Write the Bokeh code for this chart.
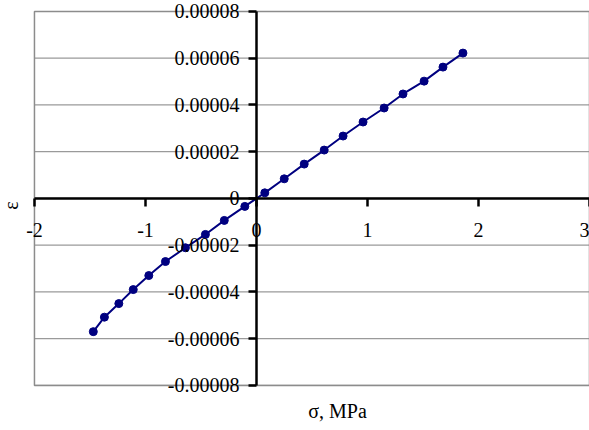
from bokeh.plotting import figure
from bokeh.models import Range1d, FixedTicker, CustomJSTickFormatter, Label
from bokeh.embed import file_html
from bokeh.resources import INLINE
import math

sigma = [-1.47, -1.37, -1.24, -1.11, -0.97, -0.82, -0.64, -0.46, -0.29, -0.105,
         0.075, 0.25, 0.43, 0.61, 0.78, 0.96, 1.15, 1.32, 1.51, 1.68, 1.86]
eps = [-0.0000570, -0.0000508, -0.0000450, -0.0000390, -0.0000330, -0.0000270,
       -0.0000211, -0.0000154, -0.0000094, -0.0000034,
       0.0000024, 0.0000084, 0.0000147, 0.0000207, 0.0000267, 0.0000327,
       0.0000387, 0.0000447, 0.0000502, 0.0000562, 0.0000622]
x_ticks = [-2, -1, 0, 1, 2, 3]
y_ticks = [-0.00008, -0.00006, -0.00004, -0.00002, 0, 0.00002, 0.00004, 0.00006, 0.00008]
x_min, x_max = -2, 3
y_min, y_max = -0.00008, 0.00008
x_title = "σ, MPa"
y_title = "ε"

FONT = "Liberation Serif"
FS = "20px"

# the frame covers the whole canvas; the plot area box is drawn inside it
p = figure(width=589, height=430, output_backend="svg", toolbar_location=None,
           x_range=Range1d(-2.306, 3.0), y_range=Range1d(-0.0000993, 0.0000847),
           min_border_left=0, min_border_right=0, min_border_top=0, min_border_bottom=0)
p.background_fill_color = "white"
p.border_fill_color = "white"
p.outline_line_color = None
p.xgrid.visible = False
p.ygrid.visible = False

# horizontal gridlines and plot-area border
p.segment(x0=[x_min] * len(y_ticks), x1=[x_max] * len(y_ticks), y0=y_ticks, y1=y_ticks,
          line_color="#9a9a9a", line_width=1.2)
p.quad(left=[x_min], right=[x_max], bottom=[y_min], top=[y_max],
       fill_color=None, line_color="#8c8c8c", line_width=1.5)

for ax in (p.xaxis[0], p.yaxis[0]):
    ax.fixed_location = 0
    ax.axis_line_color = "black"
    ax.axis_line_width = 2.5
    ax.major_tick_line_color = "black"
    ax.major_tick_line_width = 2.5
    ax.major_tick_in = 0
    ax.major_tick_out = 8
    ax.minor_tick_line_color = None
    ax.major_label_text_font = FONT
    ax.major_label_text_font_size = FS
    ax.major_label_text_color = "black"

p.xaxis[0].bounds = (x_min, x_max)
p.xaxis[0].ticker = FixedTicker(ticks=x_ticks)
p.xaxis[0].major_label_standoff = 17
p.xaxis[0].formatter = CustomJSTickFormatter(code="return String(Math.round(tick));")
p.yaxis[0].bounds = (y_min, y_max)
p.yaxis[0].ticker = FixedTicker(ticks=y_ticks)
p.yaxis[0].major_label_standoff = 9
p.yaxis[0].formatter = CustomJSTickFormatter(
    code="if (Math.abs(tick) < 1e-12) { return '0'; } return tick.toFixed(5);")

p.line(sigma, eps, line_color="#000080", line_width=2)
p.scatter(sigma, eps, size=8, fill_color="#000080", line_color="#000080")

p.add_layout(Label(x=0.73, y=-0.0000908, text=x_title, text_font=FONT, text_font_size=FS,
                   text_align="center", text_baseline="middle", text_color="black"))
p.add_layout(Label(x=-2.215, y=-0.000003, text=y_title, text_font=FONT, text_font_size=FS,
                   text_align="center", text_baseline="middle", angle=math.pi / 2,
                   text_color="black"))

open("out.html", "w").write(file_html(p, INLINE))
